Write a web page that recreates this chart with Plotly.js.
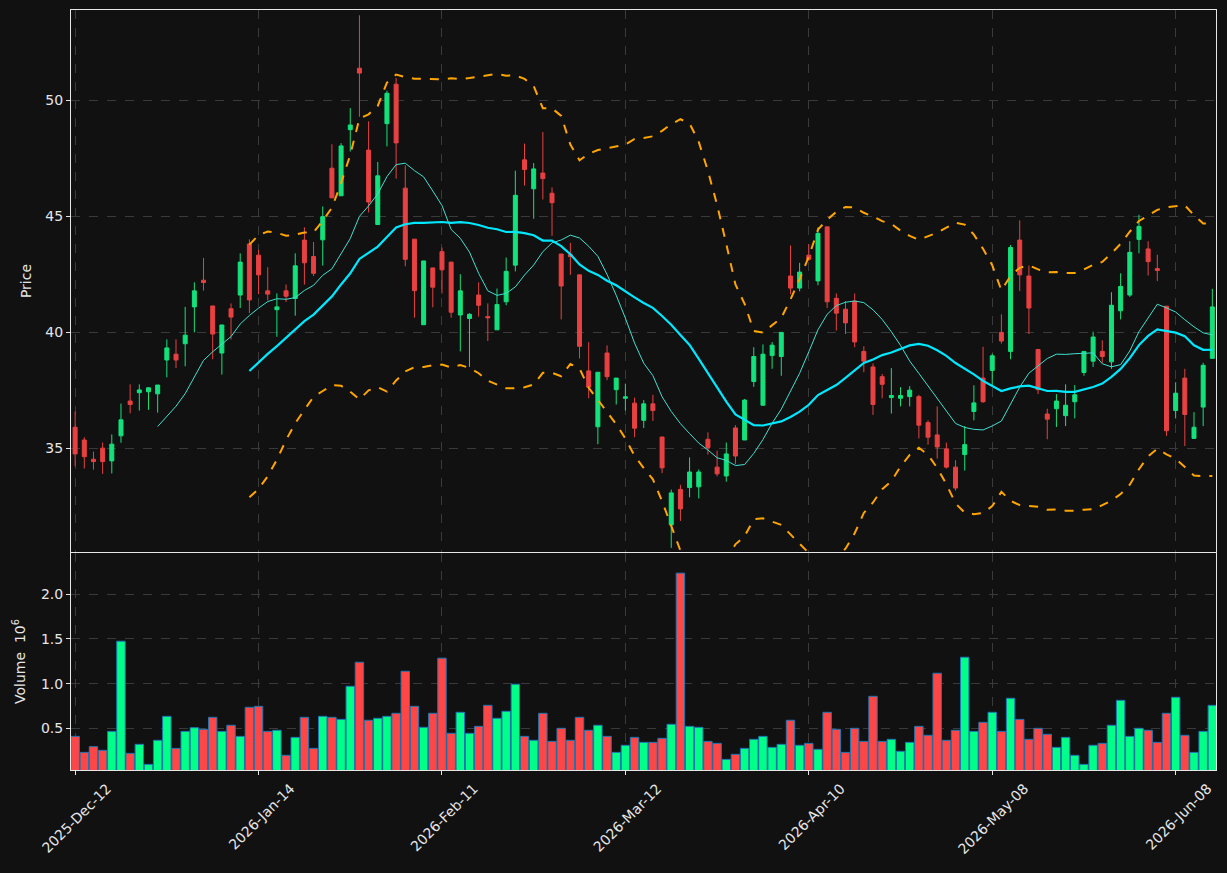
<!DOCTYPE html>
<html>
<head>
<meta charset="utf-8">
<script src="https://cdn.plot.ly/plotly-3.0.1.min.js"></script>
<style>
  html, body { margin: 0; padding: 0; background: #111111; }
  #chart { width: 1227px; height: 873px; }
</style>
</head>
<body>
<div id="chart"></div>
<script>
// ---- Data ----
const openPrices = [35.91,35.36,34.53,35.01,34.46,35.54,37.04,37.40,37.44,37.35,
  38.81,39.06,39.51,41.10,42.25,41.14,39.11,41.02,41.61,43.81,
  43.33,41.79,40.98,41.79,41.46,43.98,43.27,43.99,47.08,45.89,
  48.74,51.39,47.86,44.65,49.00,50.70,46.22,44.02,40.33,42.78,
  43.48,43.03,40.75,40.60,41.61,40.68,40.11,41.32,42.90,47.44,
  46.19,46.87,46.00,43.38,43.35,42.48,38.34,35.93,39.11,37.53,
  37.16,36.95,36.21,36.92,35.49,31.70,33.23,33.31,33.34,35.39,
  34.19,33.81,35.88,35.36,37.88,36.86,39.00,38.96,42.43,41.91,
  43.33,42.22,44.55,41.47,41.00,41.35,39.18,38.51,38.09,37.19,
  37.16,37.23,37.23,36.11,35.58,34.98,34.19,34.73,36.59,38.03,
  38.36,40.00,39.18,43.98,42.43,39.26,36.48,36.71,36.41,37.01,
  38.27,38.76,39.18,38.73,40.93,41.61,44.01,43.60,42.75,41.13,
  36.63,38.03,35.43,36.78,38.88];
const highPrices = [36.59,35.48,34.86,35.25,35.60,36.93,37.76,37.76,37.64,37.73,
  39.70,39.70,41.10,42.16,43.21,41.14,40.32,41.25,43.41,44.01,
  43.56,42.81,41.68,42.07,43.41,44.53,43.90,45.43,48.11,48.16,
  49.67,53.67,49.10,47.35,50.42,50.97,47.20,44.02,43.08,42.78,
  43.66,43.03,42.51,40.83,42.16,41.25,41.89,43.23,46.97,48.14,
  47.30,48.64,46.25,43.38,43.86,42.48,39.58,38.28,39.44,38.03,
  37.79,37.19,37.08,37.31,35.49,33.22,33.43,34.61,34.09,35.69,
  34.90,35.25,36.00,37.13,39.36,39.48,39.58,40.00,43.75,43.00,
  43.81,44.53,44.55,41.68,41.35,41.68,39.40,38.66,38.21,38.46,
  37.64,37.68,37.31,36.21,36.81,35.25,34.49,35.96,37.72,39.38,
  39.08,40.78,43.77,44.83,42.88,39.29,36.71,37.34,37.76,37.73,
  39.18,40.03,39.66,41.73,42.55,43.93,45.07,43.93,43.35,41.13,
  37.85,38.43,36.56,38.69,41.88];
const lowPrices = [34.23,34.13,34.08,33.90,33.92,35.24,36.51,36.63,36.66,36.54,
  38.06,38.46,38.54,40.00,41.80,38.84,38.18,39.70,41.05,40.83,
  41.65,41.38,39.81,41.31,40.72,42.06,42.43,42.88,45.80,45.89,
  47.80,49.30,45.17,44.65,48.02,46.63,42.85,40.63,40.33,41.08,
  41.68,40.63,39.18,38.51,40.68,39.63,40.11,41.17,42.63,46.33,
  44.90,45.73,44.16,40.56,42.48,38.88,37.16,35.18,37.94,36.89,
  36.63,35.48,35.88,36.18,33.93,30.71,31.87,32.89,32.84,34.73,
  33.79,33.56,34.31,35.36,37.65,36.86,38.43,38.13,41.65,41.77,
  43.08,42.03,41.05,40.08,39.93,39.36,38.28,36.44,37.16,36.50,
  36.81,36.81,35.43,35.16,34.56,34.13,33.18,34.04,36.21,36.96,
  37.68,39.52,38.84,41.78,39.93,37.34,35.39,35.92,35.96,36.29,
  38.13,38.51,38.69,38.43,40.56,41.53,43.41,42.45,42.21,35.54,
  36.29,35.10,35.43,35.96,38.88];
const closePrices = [34.76,34.64,34.43,34.43,35.18,36.23,36.89,37.52,37.61,37.73,
  39.33,38.81,39.88,41.79,42.15,39.93,40.32,40.66,43.03,41.40,
  42.48,41.65,41.10,41.56,42.87,43.00,42.55,44.99,45.80,48.04,
  48.94,51.18,45.62,46.75,50.31,48.17,43.15,41.80,43.08,41.95,
  42.70,40.87,41.79,40.78,41.17,40.63,41.20,42.63,45.91,47.02,
  47.05,46.63,45.59,42.00,43.27,39.40,37.64,38.28,38.09,38.03,
  37.22,35.87,36.92,36.63,34.16,33.08,32.39,33.98,33.98,35.03,
  33.90,34.76,34.67,37.08,38.96,39.06,39.45,40.00,41.91,42.60,
  43.15,44.27,41.32,40.83,40.41,39.59,38.76,36.89,37.76,37.28,
  37.28,37.51,36.00,35.48,35.06,34.19,33.29,35.16,36.96,37.01,
  38.99,39.63,43.66,42.48,41.05,37.53,36.26,37.04,36.86,37.31,
  39.18,39.80,38.96,41.17,41.98,43.45,44.57,43.05,42.67,35.76,
  37.38,36.46,35.91,38.58,41.10];
// volume in units of 10^6
const volumeMillions = [0.410,0.231,0.295,0.254,0.466,1.474,0.220,0.321,0.097,0.366,
  0.634,0.276,0.466,0.507,0.489,0.623,0.466,0.534,0.410,0.735,
  0.746,0.466,0.478,0.198,0.399,0.623,0.276,0.634,0.623,0.600,
  0.970,1.239,0.590,0.612,0.634,0.668,1.138,0.746,0.511,0.668,
  1.284,0.444,0.679,0.444,0.522,0.757,0.612,0.690,0.993,0.410,
  0.366,0.668,0.354,0.500,0.366,0.623,0.478,0.534,0.410,0.231,
  0.310,0.399,0.343,0.343,0.388,0.545,2.235,0.522,0.511,0.354,
  0.332,0.153,0.209,0.276,0.377,0.410,0.287,0.321,0.590,0.310,
  0.332,0.265,0.679,0.489,0.231,0.500,0.354,0.858,0.354,0.377,
  0.243,0.343,0.522,0.422,1.116,0.366,0.478,1.295,0.466,0.567,
  0.679,0.466,0.836,0.600,0.377,0.500,0.433,0.287,0.399,0.198,
  0.097,0.310,0.332,0.534,0.813,0.410,0.500,0.478,0.343,0.668,
  0.847,0.422,0.231,0.466,0.757];
const tickPositions = [0, 20, 40, 60, 80, 100, 120];
const tickLabels = ['2025-Dec-12','2026-Jan-14','2026-Feb-11','2026-Mar-12','2026-Apr-10','2026-May-08','2026-Jun-08'];
const priceTicks = [35, 40, 45, 50];
const volumeTicks = [0.5, 1.0, 1.5, 2.0];
const volumeTickLabels = ['0.5', '1.0', '1.5', '2.0'];
const shortWindow = 10, longWindow = 20, bandWidthSigma = 2;

// ---- Indicators derived from the close prices (as the original chart did) ----
const idx = closePrices.map((_, i) => i);
function movingAvg(arr, n) {
  return arr.map((_, i) => {
    if (i < n - 1) return null;
    let s = 0; for (let k = i - n + 1; k <= i; k++) s += arr[k];
    return s / n;
  });
}
function movingStd(arr, n) {
  return arr.map((_, i) => {
    if (i < n - 1) return null;
    let s = 0; for (let k = i - n + 1; k <= i; k++) s += arr[k];
    const m = s / n; let v = 0;
    for (let k = i - n + 1; k <= i; k++) v += (arr[k] - m) * (arr[k] - m);
    return Math.sqrt(v / n);
  });
}
const maShort = movingAvg(closePrices, shortWindow);
const maLong = movingAvg(closePrices, longWindow);
const sdLong = movingStd(closePrices, longWindow);
const bbUpper = maLong.map((m, i) => m === null ? null : m + bandWidthSigma * sdLong[i]);
const bbLower = maLong.map((m, i) => m === null ? null : m - bandWidthSigma * sdLong[i]);

const upCandle = '#13e27c', downCandle = '#e84142';
const upVol = '#00ff88', downVol = '#ff4646';
const volColors = closePrices.map((c, i) => c >= openPrices[i] ? upVol : downVol);

const traces = [
  { type: 'scatter', mode: 'lines', x: idx, y: bbUpper, xaxis: 'x', yaxis: 'y',
    line: { color: '#ffa500', width: 2, dash: 'dash' }, hoverinfo: 'skip' },
  { type: 'scatter', mode: 'lines', x: idx, y: bbLower, xaxis: 'x', yaxis: 'y',
    line: { color: '#ffa500', width: 2, dash: 'dash' }, hoverinfo: 'skip' },
  { type: 'candlestick', x: idx, open: openPrices, high: highPrices, low: lowPrices, close: closePrices,
    xaxis: 'x', yaxis: 'y', whiskerwidth: 0,
    increasing: { line: { color: upCandle, width: 1 }, fillcolor: upCandle },
    decreasing: { line: { color: downCandle, width: 1 }, fillcolor: downCandle } },
  { type: 'scatter', mode: 'lines', x: idx, y: maShort, xaxis: 'x', yaxis: 'y',
    line: { color: '#40e0d0', width: 1 }, hoverinfo: 'skip' },
  { type: 'scatter', mode: 'lines', x: idx, y: maLong, xaxis: 'x', yaxis: 'y',
    line: { color: '#00e8ff', width: 2.2 }, hoverinfo: 'skip' },
  { type: 'bar', x: idx, y: volumeMillions, xaxis: 'x2', yaxis: 'y2',
    marker: { color: volColors, line: { color: '#1f77b4', width: 1 } } }
];

const font = { family: 'DejaVu Sans, sans-serif', size: 14, color: '#e6e6e6' };
const gridCommon = { showgrid: true, gridcolor: '#3a3a3a', griddash: 'dash', gridwidth: 1,
  showline: true, mirror: true, linecolor: '#e6e6e6', linewidth: 1, zeroline: false };

const layout = {
  width: 1227, height: 873,
  margin: { l: 71, r: 11, t: 10, b: 103 },
  paper_bgcolor: '#111111', plot_bgcolor: '#111111',
  font: font, showlegend: false, boxgap: 0.38, bargap: 0.08,
  xaxis: Object.assign({}, gridCommon, {
    domain: [0, 1], anchor: 'y', range: [-0.45, 124.4],
    tickmode: 'array', tickvals: tickPositions, ticktext: tickLabels,
    showticklabels: false, ticks: '', rangeslider: { visible: false }
  }),
  yaxis: Object.assign({}, gridCommon, {
    domain: [0.2868, 1], anchor: 'x', range: [30.53, 53.9],
    tickmode: 'array', tickvals: priceTicks, ticks: 'outside', ticklen: 4, tickcolor: '#e6e6e6',
    title: { text: 'Price', standoff: 10, font: font }
  }),
  xaxis2: Object.assign({}, gridCommon, {
    domain: [0, 1], anchor: 'y2', range: [-0.45, 124.4], matches: 'x',
    tickmode: 'array', tickvals: tickPositions, ticktext: tickLabels,
    ticks: 'outside', ticklen: 4, tickcolor: '#e6e6e6', tickangle: -45,
    ticklabelshift: 32
  }),
  yaxis2: Object.assign({}, gridCommon, {
    domain: [0, 0.2855], anchor: 'x2', range: [0.034, 2.46],
    tickmode: 'array', tickvals: volumeTicks, ticktext: volumeTickLabels,
    ticks: 'outside', ticklen: 4, tickcolor: '#e6e6e6',
    title: { text: 'Volume  10<sup>6</sup>', standoff: 12, font: font }
  })
};

Plotly.newPlot('chart', traces, layout, { staticPlot: true, displayModeBar: false });
</script>
</body>
</html>
